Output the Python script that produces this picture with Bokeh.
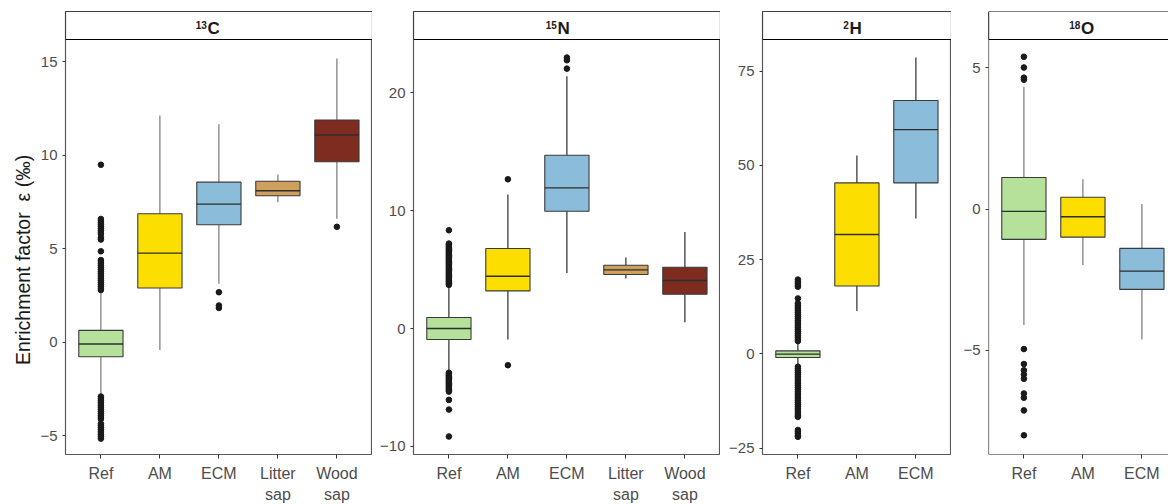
import numpy as np
from bokeh.plotting import figure
from bokeh.models import FixedTicker, Span, Range1d
from bokeh.layouts import row, column
from bokeh.embed import file_html
from bokeh.resources import INLINE
from bokeh.core.properties import value

FONT = "Liberation Sans"

# ------------------------------------------------------------------ data
group_colors = ["#B5E19B", "#FCDF00", "#8BBCDA", "#CF9F5D", "#7E2C1F"]
y_title = "Enrichment factor\u00a0\u00a0\u03b5 (\u2030)"

C13_labels = ["Ref", "AM", "ECM", "Litter\nsap", "Wood\nsap"]
C13_low = [-2.85, -0.41, 3.13, 7.50, 6.61]
C13_q1 = [-0.77, 2.91, 6.29, 7.84, 9.66]
C13_med = [-0.09, 4.77, 7.39, 8.11, 11.09]
C13_q3 = [0.64, 6.88, 8.57, 8.62, 11.89]
C13_high = [2.75, 12.13, 11.66, 8.98, 15.18]
C13_out_ref = [9.5, 6.6, 6.5, 6.4, 6.3, 6.2, 6.1, 6.0, 5.9, 5.8, 5.6, 5.5, 4.87,
               4.4, 4.3, 4.2, 4.1, 4.0, 3.9, 3.8, 3.7, 3.6, 3.5, 3.4, 3.3, 3.2,
               3.1, 3.0, 2.9, 2.8, -2.9, -3.0, -3.1, -3.2, -3.3, -3.4, -3.5,
               -3.6, -3.7, -3.8, -3.9, -4.0, -4.1, -4.35, -4.45, -4.55, -4.65,
               -4.75, -4.85, -4.95, -5.05, -5.15]
C13_out_am = []
C13_out_ecm = [2.68, 1.97, 1.84]
C13_out_litter = []
C13_out_wood = [6.18]
C13_ticks = [-5, 0, 5, 10, 15]

N15_labels = ["Ref", "AM", "ECM", "Litter\nsap", "Wood\nsap"]
N15_low = [-3.65, -0.93, 4.71, 4.24, 0.53]
N15_q1 = [-0.93, 3.19, 9.94, 4.58, 2.91]
N15_med = [0.0, 4.43, 11.92, 4.97, 4.07]
N15_q3 = [0.93, 6.78, 14.69, 5.36, 5.19]
N15_high = [3.6, 11.36, 21.38, 6.02, 8.19]
N15_out_ref = [8.33, 7.2, 7.1, 7.0, 6.9, 6.8, 6.7, 6.6, 6.5, 6.4, 6.3, 6.2, 6.1,
               6.0, 5.9, 5.8, 5.7, 5.6, 5.5, 5.4, 5.3, 5.2, 5.1, 5.0, 4.9, 4.8,
               4.7, 4.6, 4.5, 4.4, 4.3, 4.2, 4.1, 4.0, 3.9, 3.8, 3.7, -3.75,
               -3.85, -3.95, -4.05, -4.15, -4.25, -4.35, -4.45, -4.55, -4.65,
               -4.75, -4.85, -4.95, -5.05, -5.15, -5.25, -5.35, -6.05, -6.87,
               -9.15]
N15_out_am = [12.65, -3.11]
N15_out_ecm = [22.97, 22.74, 22.03]
N15_out_litter = []
N15_out_wood = []
N15_ticks = [-10, 0, 10, 20]

H2_labels = ["Ref", "AM", "ECM"]
H2_low = [-3.0, 11.4, 35.9]
H2_q1 = [-0.96, 18.0, 45.36]
H2_med = [-0.08, 31.67, 59.5]
H2_q3 = [0.8, 45.36, 67.2]
H2_high = [3.1, 52.6, 78.6]
H2_out_ref = [19.7, 19.2, 18.7, 18.2, 17.8, 14.7, 13.4, 12.9, 12.4, 11.9, 11.4,
              10.9, 10.4, 9.9, 9.4, 8.9, 8.4, 7.9, 7.4, 6.9, 6.4, 5.9, 5.4, 4.9,
              4.4, 3.9, 3.4, -3.4, -3.9, -4.4, -4.9, -5.4, -5.9, -6.4, -6.9,
              -7.4, -7.9, -8.4, -8.9, -9.4, -9.9, -10.4, -10.9, -11.4, -11.9,
              -12.4, -12.9, -13.4, -13.9, -14.4, -14.9, -15.4, -15.9, -16.4,
              -16.7, -20.2, -20.7, -21.2, -21.7, -22.0]
H2_out_am = []
H2_out_ecm = []
H2_ticks = [-25, 0, 25, 50, 75]

O18_labels = ["Ref", "AM", "ECM"]
O18_low = [-4.1, -1.98, -4.61]
O18_q1 = [-1.07, -0.99, -2.84]
O18_med = [-0.08, -0.27, -2.19]
O18_q3 = [1.12, 0.42, -1.39]
O18_high = [4.33, 1.06, 0.18]
O18_out_ref = [5.39, 5.01, 4.65, 4.58, -4.95, -5.48, -5.7, -5.85, -6.0, -6.52,
               -6.67, -7.12, -8.0]
O18_out_am = []
O18_out_ecm = []
O18_ticks = [-5, 0, 5]

# ------------------------------------------------------------------ layout
PAGE_H = 504
FRAME_TOP = 11          # strip top (page px)
FRAME_BOTTOM = 454      # panel bottom (page px)
MAIN_BORDER_BOTTOM = 8
MAIN_H = FRAME_BOTTOM + MAIN_BORDER_BOTTOM
STRIP_PX = 28
PX_PER_CAT = 59.0
BOX_HALF = 0.375
TITLE_W = 36


def make_title_fig():
    f = figure(width=TITLE_W, height=PAGE_H, output_backend="svg",
               toolbar_location=None, x_range=Range1d(0, TITLE_W),
               y_range=Range1d(PAGE_H, 0), min_border=0,
               x_axis_location=None, y_axis_location=None)
    f.grid.visible = False
    f.outline_line_color = None
    f.text(x=[22], y=[259.5], text=[y_title], angle=np.pi / 2,
           text_align="center", text_baseline="middle", text_font=value(FONT),
           text_font_size="19.5px", text_color="#1a1a1a")
    return f


def make_panel(labels, low, q1, med, q3, high, outs, ticks, y_lo, y_hi_main,
               fig_w, border_left, page_x, sup, elem, split_px,
               frame_line, whisker_line, last=False):
    frame_w = fig_w - border_left
    frame_h = FRAME_BOTTOM - FRAME_TOP
    main_h = frame_h - STRIP_PX
    upp = (y_hi_main - y_lo) / main_h          # data units per pixel
    y_end = y_hi_main + STRIP_PX * upp
    x_start = 0.4
    x_end = x_start + frame_w / PX_PER_CAT
    frame_left_page = page_x + border_left

    def dx(px):
        return x_start + (px - frame_left_page) / PX_PER_CAT

    def dy(py):
        return y_end - (py - FRAME_TOP) * upp

    p = figure(width=fig_w, height=MAIN_H, output_backend="svg",
               toolbar_location=None, x_range=Range1d(x_start, x_end),
               y_range=Range1d(y_lo, y_end), min_border_left=border_left,
               min_border_right=0, min_border_top=FRAME_TOP,
               min_border_bottom=MAIN_BORDER_BOTTOM)
    p.background_fill_color = "white"
    p.border_fill_color = "white"
    p.xgrid.visible = False
    p.ygrid.visible = False

    n = len(labels)
    xs = list(range(1, n + 1))
    cols = group_colors[:n]

    # whiskers
    p.segment(x0=xs, x1=xs, y0=q3, y1=high, line_color=whisker_line, line_width=1.1)
    p.segment(x0=xs, x1=xs, y0=q1, y1=low, line_color=whisker_line, line_width=1.1)
    # boxes
    p.quad(left=[x - BOX_HALF for x in xs], right=[x + BOX_HALF for x in xs],
           bottom=q1, top=q3, fill_color=cols, line_color="#3a3a3a", line_width=1.1)
    p.segment(x0=[x - BOX_HALF for x in xs], x1=[x + BOX_HALF for x in xs],
              y0=med, y1=med, line_color="#2e2e2e", line_width=1.3)
    # outliers
    ox, oy = [], []
    for x, o in zip(xs, outs):
        ox += [x] * len(o)
        oy += list(o)
    p.scatter(ox, oy, size=5.6, fill_color="#1a1a1a", line_color="#1a1a1a")

    # facet strip
    p.quad(left=[x_start], right=[x_end + (1 if last else 0)], bottom=[y_hi_main],
           top=[y_end], fill_color="white", line_color="black", line_width=1.2)
    split = dx(split_px)
    p.text(x=[split], y=[dy(28.3)], text=[elem], text_align="left",
           text_baseline="middle", text_font=value(FONT),
           text_font_style="bold", text_font_size="17px", text_color="#1a1a1a")
    p.text(x=[split - 0.01], y=[dy(24.4)], text=[sup], text_align="right",
           text_baseline="middle", text_font=value(FONT),
           text_font_style="bold", text_font_size="10px", text_color="#1a1a1a")

    # frame
    if last:
        p.outline_line_color = None
        p.add_layout(Span(location=x_start, dimension="height", line_color="#1a1a1a", line_width=1.2))
        p.add_layout(Span(location=y_lo, dimension="width", line_color="#1a1a1a", line_width=1.2))
    else:
        p.outline_line_color = frame_line
        p.outline_line_width = 1.2

    # axes
    p.xaxis.ticker = FixedTicker(ticks=xs)
    p.xaxis.major_label_overrides = {x: "" for x in xs}
    p.xaxis.major_label_text_font_size = "1px"
    p.xaxis.major_label_standoff = 0
    p.yaxis.ticker = FixedTicker(ticks=ticks)
    p.yaxis.major_label_overrides = {t: (str(t) if t >= 0 else "\u2212" + str(-t)) for t in ticks}
    for ax in (p.xaxis, p.yaxis):
        ax.axis_line_color = None
        ax.minor_tick_line_color = None
        ax.major_tick_in = 0
        ax.major_tick_line_color = "#333333"
        ax.major_label_text_font = FONT
        ax.major_label_text_color = "#4D4D4D"
    p.xaxis.major_tick_out = 4
    p.yaxis.major_tick_out = 3
    p.yaxis.major_label_text_font_size = "15px"
    p.yaxis.major_label_standoff = 5

    # category labels below the panel
    lab = figure(width=fig_w, height=PAGE_H - MAIN_H, output_backend="svg",
                 toolbar_location=None, x_range=Range1d(x_start, x_end),
                 y_range=Range1d(PAGE_H, MAIN_H), min_border_left=border_left,
                 min_border_right=0, min_border_top=0, min_border_bottom=0,
                 x_axis_location=None, y_axis_location=None)
    lab.grid.visible = False
    lab.outline_line_color = None
    first = [s.split("\n")[0] for s in labels]
    second = [s.split("\n")[1] if "\n" in s else "" for s in labels]
    lab.text(x=xs, y=[473.0] * n, text=first, text_align="center",
             text_baseline="middle", text_font=value(FONT),
             text_font_size="16px", text_color="#4D4D4D")
    lab.text(x=xs, y=[493.5] * n, text=second, text_align="center",
             text_baseline="middle", text_font=value(FONT),
             text_font_size="16px", text_color="#4D4D4D")
    return column(p, lab)


p0 = make_title_fig()
p1 = make_panel(C13_labels, C13_low, C13_q1, C13_med, C13_q3, C13_high,
                [C13_out_ref, C13_out_am, C13_out_ecm, C13_out_litter, C13_out_wood],
                C13_ticks, -6.0, 16.2, 336, 29, TITLE_W, "13", "C", 207,
                "#5a5a5a", "#6b6b6b")
p2 = make_panel(N15_labels, N15_low, N15_q1, N15_med, N15_q3, N15_high,
                [N15_out_ref, N15_out_am, N15_out_ecm, N15_out_litter, N15_out_wood],
                N15_ticks, -10.68, 24.5, 348, 41, 372, "15", "N", 557,
                "#5a5a5a", "#1a1a1a")
p3 = make_panel(H2_labels, H2_low, H2_q1, H2_med, H2_q3, H2_high,
                [H2_out_ref, H2_out_am, H2_out_ecm],
                H2_ticks, -26.7, 83.4, 231, 42, 720, "2", "H", 849,
                "#5a5a5a", "#1a1a1a")
p4 = make_panel(O18_labels, O18_low, O18_q1, O18_med, O18_q3, O18_high,
                [O18_out_ref, O18_out_am, O18_out_ecm],
                O18_ticks, -8.68, 6.0, 217, 37, 951, "18", "O", 1080.5,
                "#1a1a1a", "#6b6b6b", last=True)

layout = row(p0, p1, p2, p3, p4)
open("out.html", "w").write(file_html(layout, INLINE))
